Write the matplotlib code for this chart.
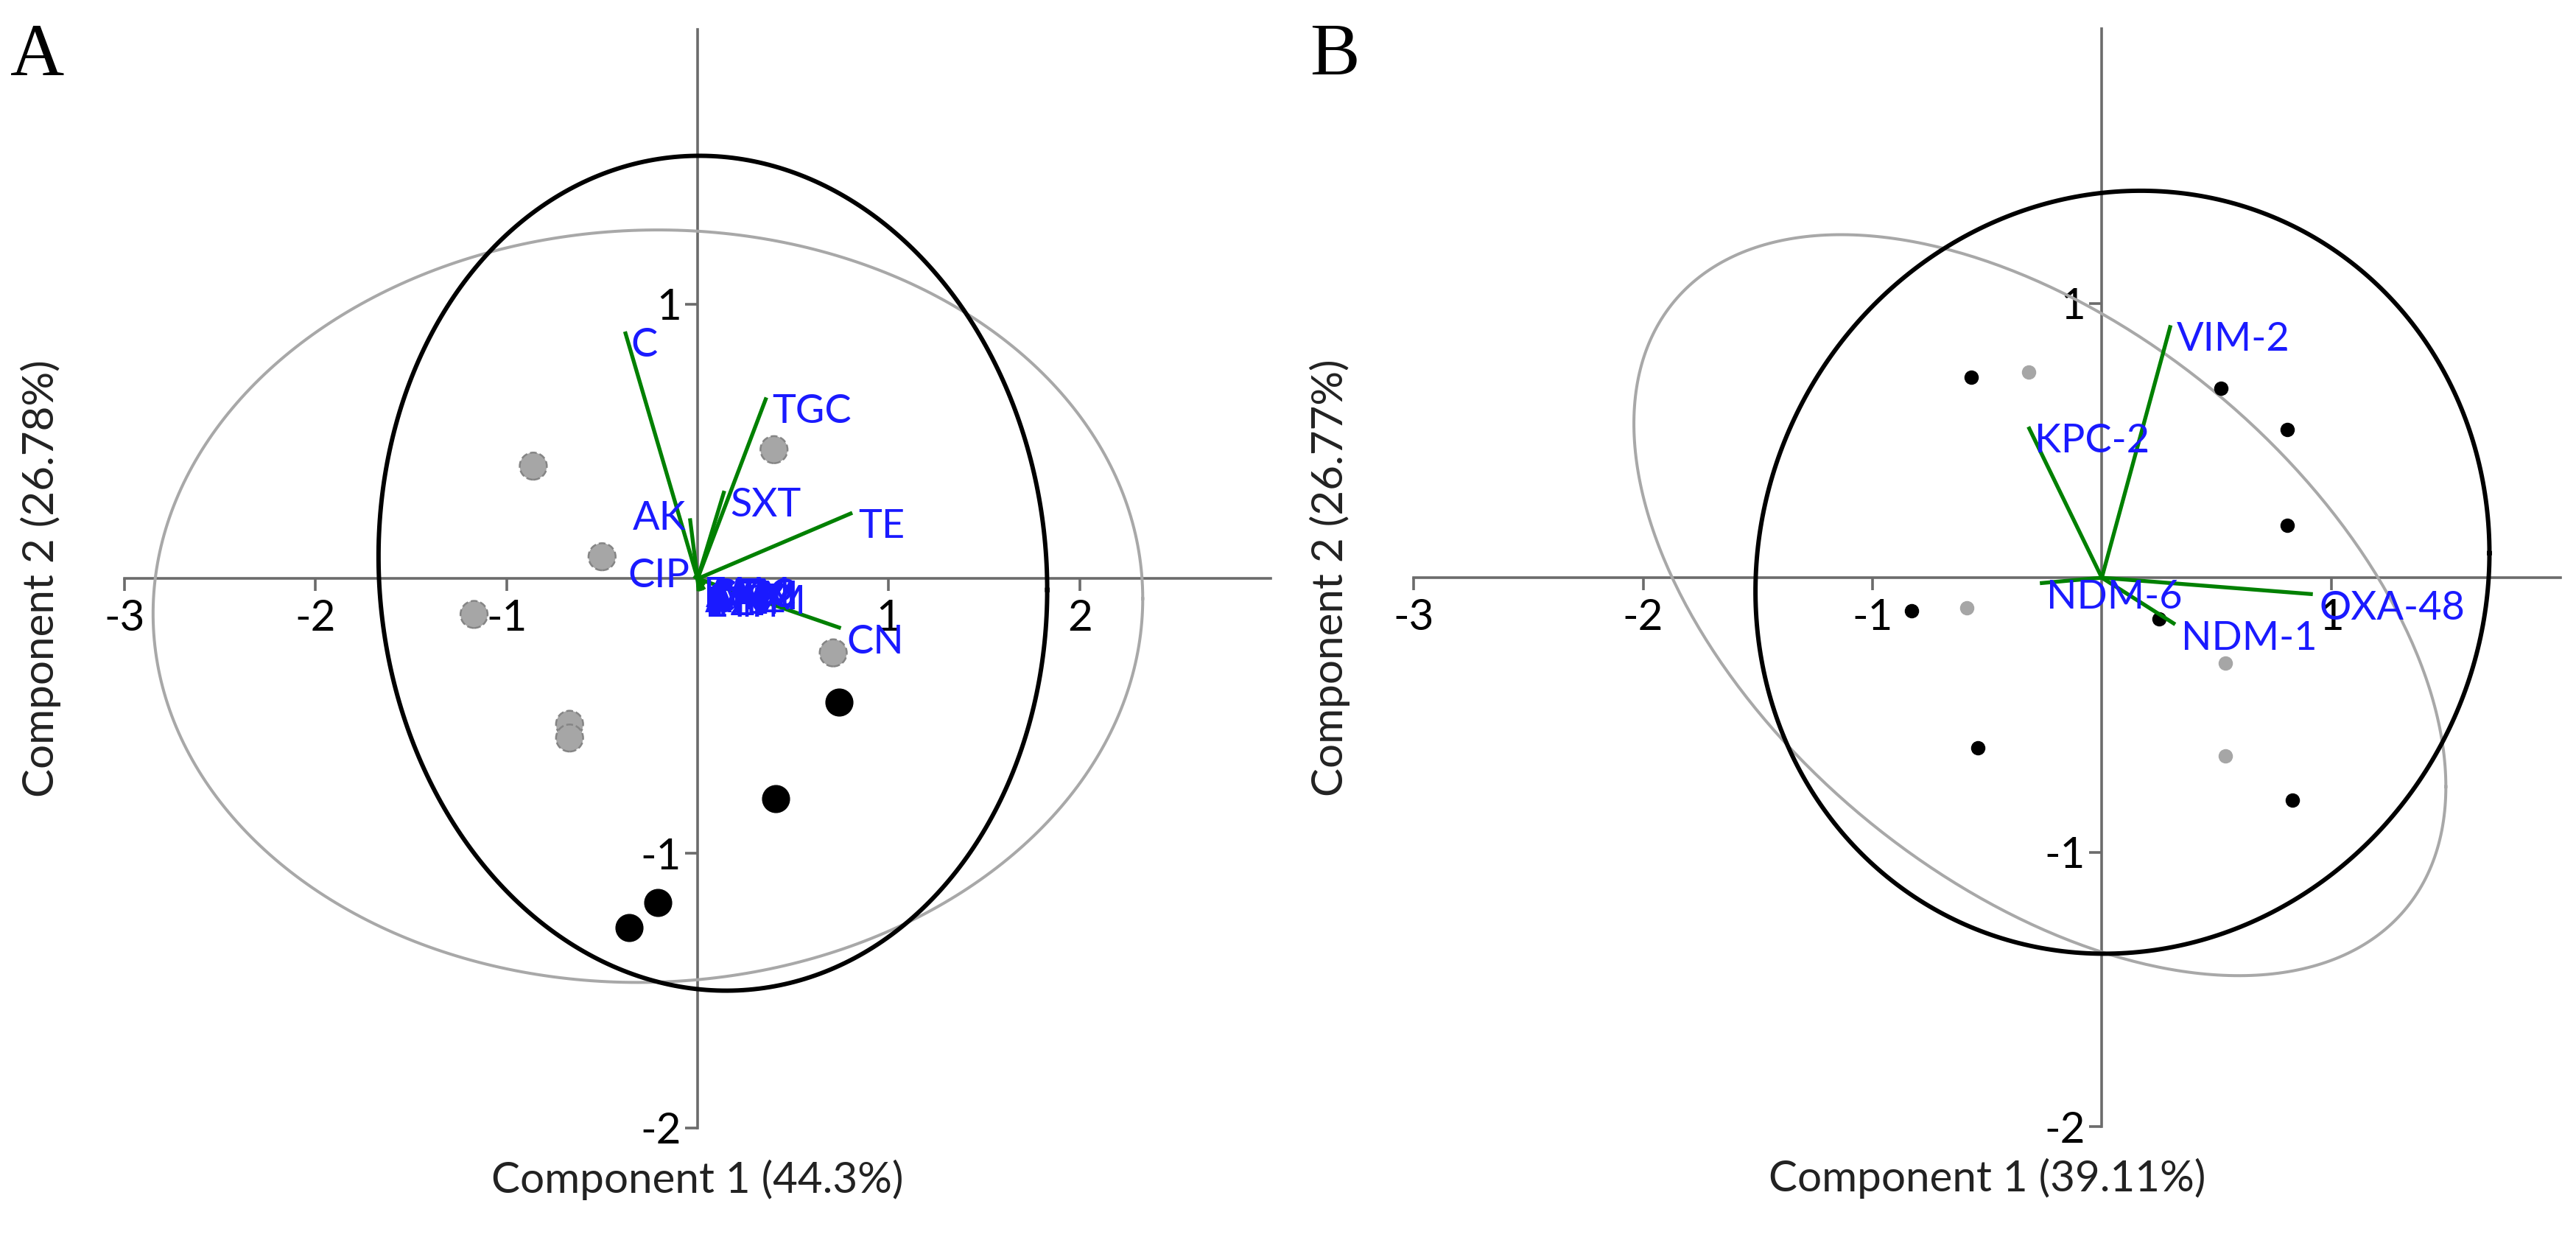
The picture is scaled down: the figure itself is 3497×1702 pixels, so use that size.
import numpy as np
import matplotlib
matplotlib.use("Agg")
import matplotlib.pyplot as plt

plt.rcParams['font.family'] = ['Lato', 'DejaVu Sans']
plt.rcParams['axes.unicode_minus'] = False

# ---- panel A: scores ----
a_gray_x = [-0.86, -0.50, -1.17, -0.67, -0.67, 0.40, 0.71]
a_gray_y = [0.41, 0.08, -0.13, -0.53, -0.58, 0.47, -0.27]
a_black_x = [0.74, 0.41, -0.21, -0.36]
a_black_y = [-0.45, -0.80, -1.18, -1.27]

# ---- panel A: loadings (many near zero overlap into a blue block) ----
a_load_names = ['C', 'TGC', 'SXT', 'TE', 'AK', 'CIP', 'CN',
                'AMP', 'AMC', 'TZP', 'CXM', 'CAZ', 'CTX', 'FEP',
                'ATM', 'IPM', 'MEM', 'ETP', 'FAM']
a_load_x = [-0.38, 0.36, 0.14, 0.81, -0.04, -0.02, 0.75,
            0.005, 0.01, 0.015, 0.02, 0.025, 0.03, 0.035,
            0.04, 0.015, 0.025, 0.005, 0.00]
a_load_y = [0.90, 0.66, 0.32, 0.24, 0.22, 0.01, -0.18,
            -0.03, -0.01, -0.04, -0.02, -0.03, -0.01, -0.04,
            -0.02, -0.045, -0.035, -0.045, -0.005]
a_left_labels = ['AK', 'CIP']

# ---- panel B ----
b_gray_x = [-0.32, -0.59, 0.54, 0.54]
b_gray_y = [0.75, -0.11, -0.31, -0.65]
b_black_x = [-0.57, 0.52, 0.81, 0.81, -0.83, 0.25, -0.54, 0.83]
b_black_y = [0.73, 0.69, 0.54, 0.19, -0.12, -0.15, -0.62, -0.81]
b_load_names = ['VIM-2', 'KPC-2', 'NDM-6', 'OXA-48', 'NDM-1']
b_load_x = [0.30, -0.32, -0.27, 0.92, 0.32]
b_load_y = [0.92, 0.55, -0.02, -0.06, -0.17]

# ellipses: centre x, centre y, half extent x, half extent y, correlation
a_ell_black = (0.08, 0.02, 1.75, 1.52, -0.04)
a_ell_gray = (-0.26, -0.10, 2.59, 1.37, 0.02)
b_ell_black = (0.09, 0.02, 1.60, 1.39, 0.05)
b_ell_gray = (-0.27, -0.10, 1.77, 1.35, -0.49)

a_xticks = [-3, -2, -1, 1, 2]
b_xticks = [-3, -2, -1, 1]
yticks = [-2, -1, 1]

GREEN = '#008000'
BLUE = '#1a1aff'
AXC = '#6b6b6b'


def ellipse_xy(cx, cy, sx, sy, rho, n=400):
    t = np.linspace(0, 2 * np.pi, n)
    x = cx + sx * np.cos(t)
    y = cy + sy * (rho * np.cos(t) + np.sqrt(1 - rho ** 2) * np.sin(t))
    return x, y


def setup_axes(ax, xlim, xticks, xlabel, ylabel):
    ax.set_xlim(*xlim)
    ax.set_ylim(-2, 2)
    for s in ['top', 'right']:
        ax.spines[s].set_visible(False)
    for s in ['left', 'bottom']:
        ax.spines[s].set_position(('data', 0))
        ax.spines[s].set_color(AXC)
        ax.spines[s].set_linewidth(2.6)
        ax.spines[s].set_zorder(1)
    ax.set_xticks(xticks)
    ax.set_xticklabels([str(v) for v in xticks])
    ax.set_yticks(yticks)
    ax.set_yticklabels([str(v) for v in yticks])
    ax.tick_params(direction='out', length=12, width=2.6, color=AXC,
                   labelcolor='black', labelsize=42)
    ax.tick_params(axis='x', pad=8)
    ax.tick_params(axis='y', pad=4)
    ax.text(0.5, -0.047, xlabel, transform=ax.transAxes, ha='center',
            va='center', fontsize=42, color='#222222')
    ax.text(-0.073, 0.5, ylabel, transform=ax.transAxes, ha='center',
            va='center', rotation=90, fontsize=42, color='#222222')


def draw_loadings(ax, names, xs, ys, left_labels=()):
    for name, x, y in zip(names, xs, ys):
        ax.plot([0, x], [0, y], color=GREEN, lw=3.8, zorder=5,
                solid_capstyle='butt')
    for name, x, y in zip(names, xs, ys):
        if name in left_labels:
            ax.annotate(name, (x, y), xytext=(-4, 0), textcoords='offset points',
                        ha='right', va='center', color=BLUE, fontsize=39, zorder=6)
        else:
            ax.annotate(name, (x, y), xytext=(6, 4), textcoords='offset points',
                        ha='left', va='top', color=BLUE, fontsize=39, zorder=6)


fig = plt.figure(figsize=(34.97, 17.02), dpi=100)
axA = fig.add_axes([0.0483, 0.1005, 0.4450, 0.8760])
axB = fig.add_axes([0.5488, 0.1016, 0.4452, 0.8754])

# panel A
setup_axes(axA, (-3, 3), a_xticks, 'Component 1 (44.3%)', 'Component 2 (26.78%)')
ex, ey = ellipse_xy(*a_ell_gray)
axA.plot(ex, ey, color='#a8a8a8', lw=2.9, zorder=3, clip_on=False)
ex, ey = ellipse_xy(*a_ell_black)
axA.plot(ex, ey, color='black', lw=4.3, zorder=3, clip_on=False)
axA.scatter(a_gray_x, a_gray_y, s=700, color='#a6a6a6', edgecolors='#858585',
            linewidths=1.8, linestyles='--', zorder=4)
axA.scatter(a_black_x, a_black_y, s=700, color='black', zorder=4)
draw_loadings(axA, a_load_names, a_load_x, a_load_y, a_left_labels)

# panel B
setup_axes(axB, (-3, 2), b_xticks, 'Component 1 (39.11%)', 'Component 2 (26.77%)')
ex, ey = ellipse_xy(*b_ell_gray)
axB.plot(ex, ey, color='#a8a8a8', lw=2.9, zorder=3, clip_on=False)
ex, ey = ellipse_xy(*b_ell_black)
axB.plot(ex, ey, color='black', lw=4.3, zorder=3, clip_on=False)
axB.scatter(b_gray_x, b_gray_y, s=170, color='#a6a6a6', zorder=4)
axB.scatter(b_black_x, b_black_y, s=170, color='black', zorder=4)
draw_loadings(axB, b_load_names, b_load_x, b_load_y)

fig.text(0.004, 0.94, 'A', fontsize=73, family='Liberation Serif', ha='left', va='baseline')
fig.text(0.5084, 0.94, 'B', fontsize=73, family='Liberation Serif', ha='left', va='baseline')

fig.savefig('out.png', dpi=100)
